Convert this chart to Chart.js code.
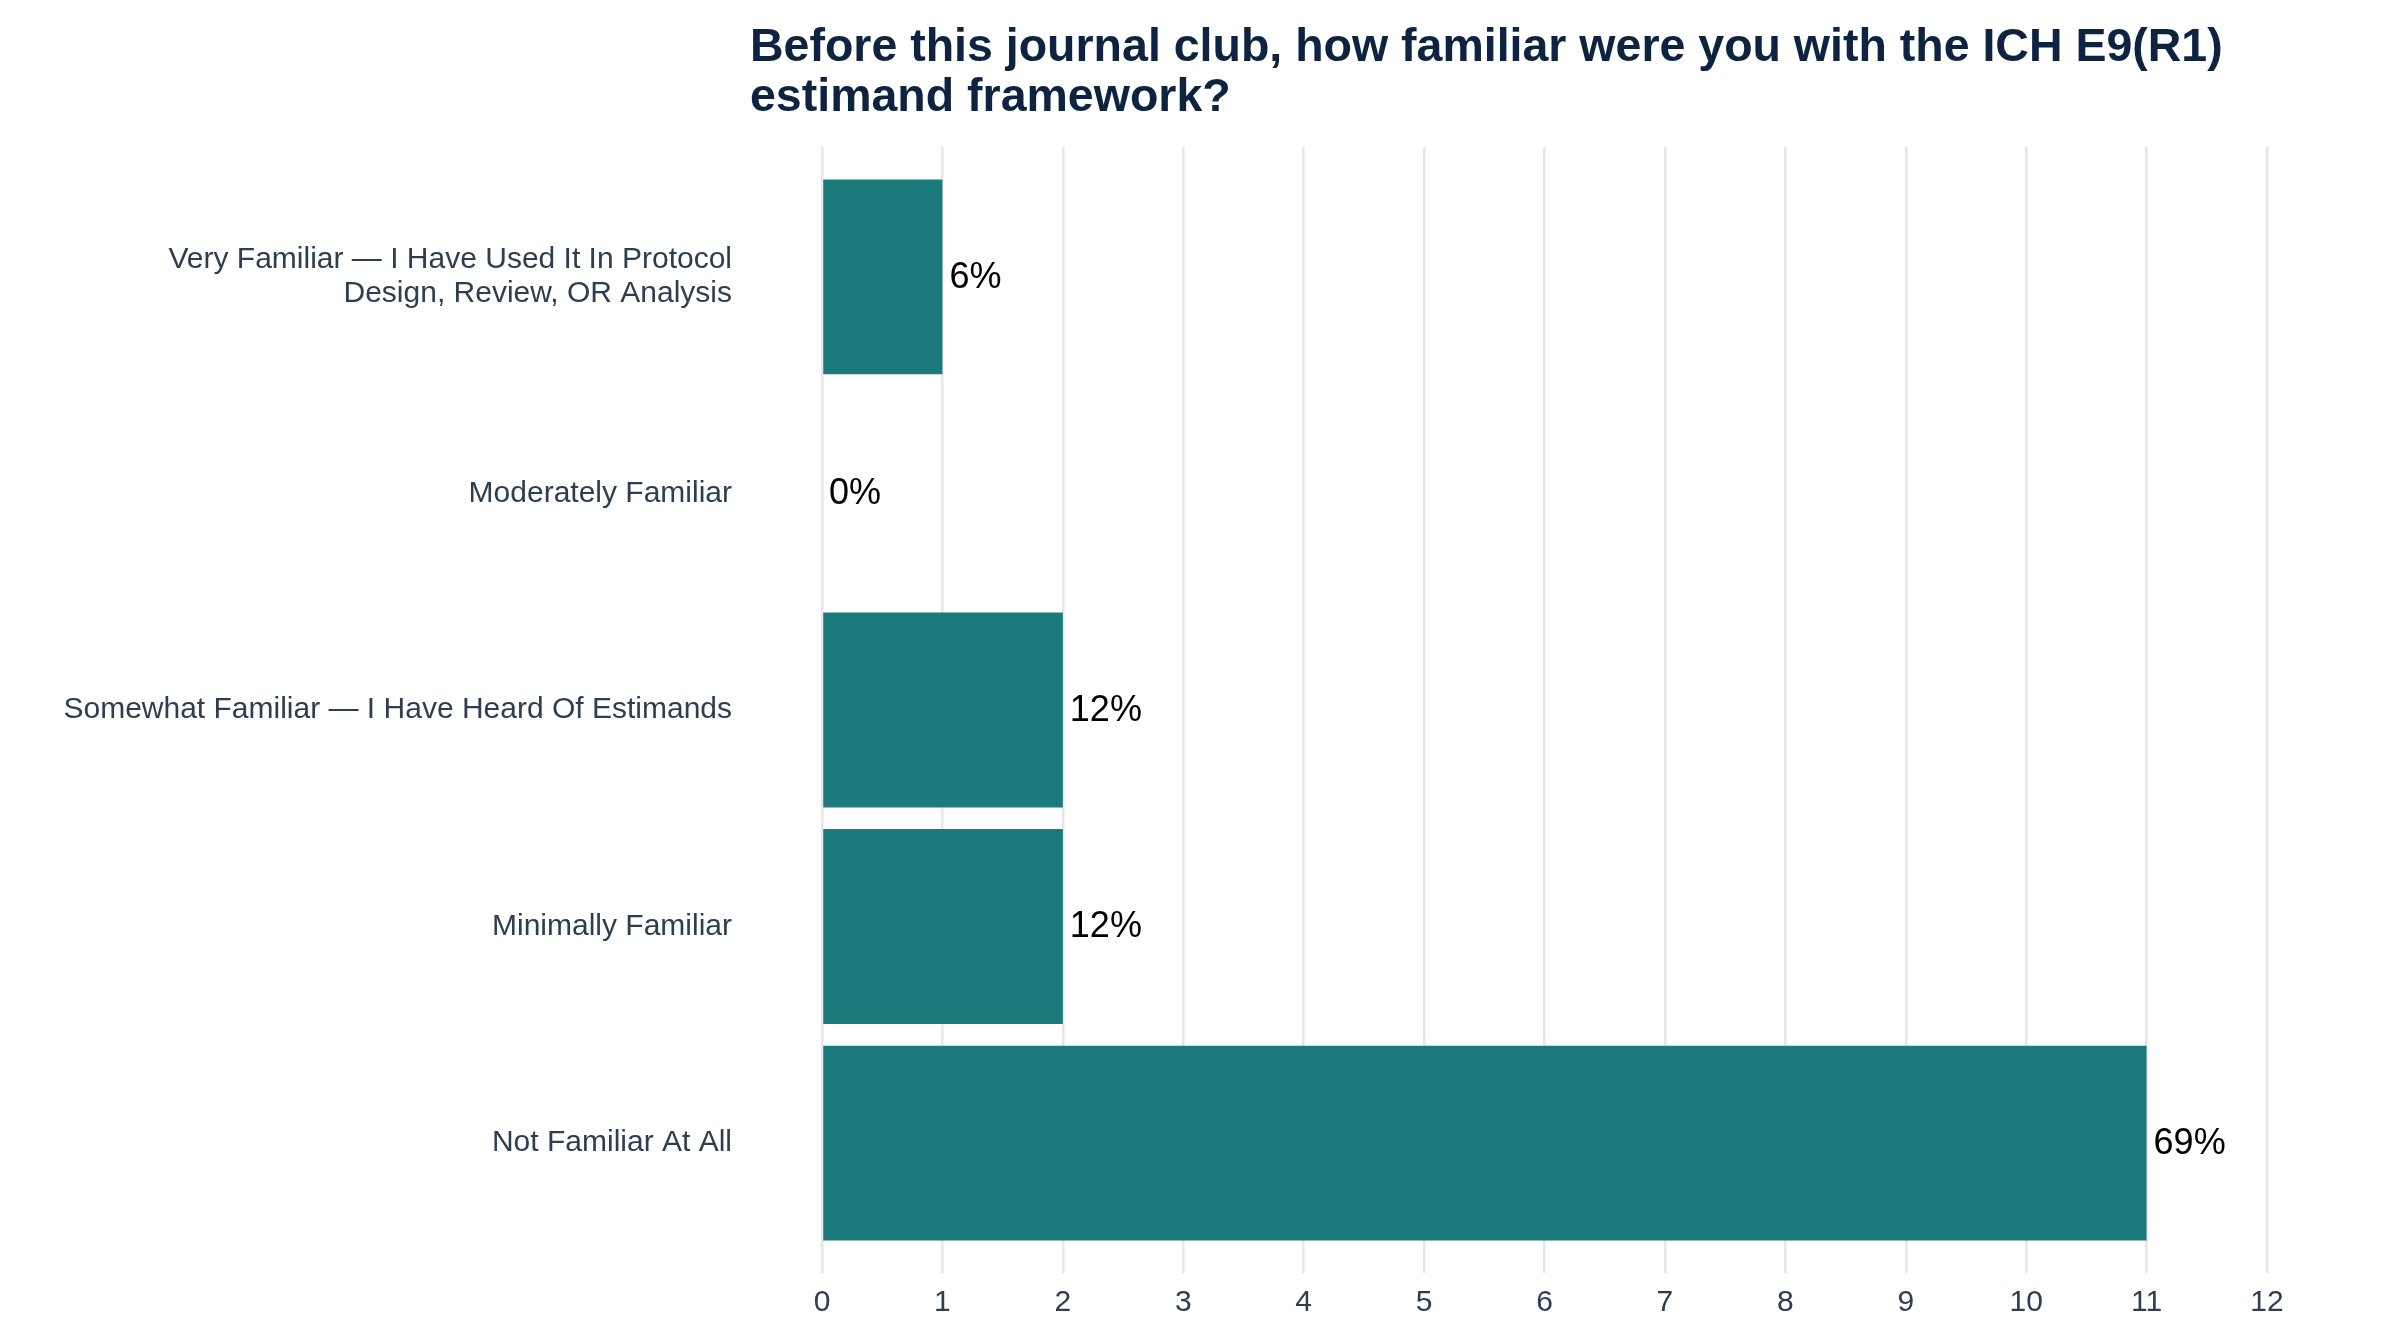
<!DOCTYPE html>
<html>
<head>
<meta charset="utf-8">
<script src="https://cdn.jsdelivr.net/npm/chart.js@4.4.1/dist/chart.umd.min.js"></script>
<style>
  html, body { margin: 0; padding: 0; background: #ffffff; }
  #wrap { width: 2400px; height: 1344px; }
</style>
</head>
<body>
<div id="wrap"><canvas id="chart" width="2400" height="1344"></canvas></div>
<script>
const titleLines = [
  'Before this journal club, how familiar were you with the ICH E9(R1)',
  'estimand framework?'
];

const categories = [
  ['Very Familiar \u2014 I Have Used It In Protocol', 'Design, Review, OR Analysis'],
  'Moderately Familiar',
  'Somewhat Familiar \u2014 I Have Heard Of Estimands',
  'Minimally Familiar',
  'Not Familiar At All'
];

const counts = [1, 0, 2, 2, 11];
const pctLabels = ['6%', '0%', '12%', '12%', '69%'];

const xTicks = [0, 1, 2, 3, 4, 5, 6, 7, 8, 9, 10, 11, 12];

const FONT = '"Liberation Sans", Arial, Helvetica, sans-serif';
const barColor = '#1b7a7c';
const labelColor = '#2c3e50';
const titleColor = '#0d2340';

// title drawn by hand so it can sit left of the plot panel
const titlePlugin = {
  id: 'leftTitle',
  afterDraw(chart) {
    const ctx = chart.ctx;
    ctx.save();
    ctx.font = 'bold 46.5px ' + FONT;
    ctx.fillStyle = titleColor;
    ctx.textAlign = 'left';
    ctx.textBaseline = 'alphabetic';
    titleLines.forEach((t, i) => ctx.fillText(t, 750, 61 + i * 50));
    ctx.restore();
  }
};

// percentage text at the end of every bar
const valueLabels = {
  id: 'valueLabels',
  afterDatasetsDraw(chart) {
    const ctx = chart.ctx;
    const meta = chart.getDatasetMeta(0);
    ctx.save();
    ctx.font = '36px ' + FONT;
    ctx.fillStyle = '#000000';
    ctx.textAlign = 'left';
    ctx.textBaseline = 'middle';
    meta.data.forEach((bar, i) => {
      ctx.fillText(pctLabels[i], bar.x + 7, bar.y + 1);
    });
    ctx.restore();
  }
};

new Chart(document.getElementById('chart'), {
  type: 'bar',
  data: {
    datasets: [{
      data: counts.map((v, i) => ({ x: v, y: i })),
      backgroundColor: barColor,
      borderWidth: 0,
      categoryPercentage: 0.9,
      barPercentage: 1.0
    }]
  },
  options: {
    indexAxis: 'y',
    responsive: false,
    devicePixelRatio: 1,
    animation: false,
    layout: { padding: { top: 147, right: 133, left: 0, bottom: 0 } },
    plugins: {
      legend: { display: false },
      title: { display: false },
      tooltip: { enabled: false }
    },
    scales: {
      x: {
        type: 'linear',
        min: 0,
        max: 12,
        afterBuildTicks: axis => { axis.ticks = xTicks.map(v => ({ value: v })); },
        afterFit: axis => { axis.height = 71; },
        grid: { color: '#e6e6e6', lineWidth: 2.5, drawTicks: false },
        border: { display: false },
        ticks: {
          color: labelColor,
          font: { family: FONT, size: 30 },
          padding: 12
        }
      },
      y: {
        type: 'linear',
        offset: false,
        min: -0.6,
        max: 4.6,
        reverse: true,
        afterBuildTicks: axis => { axis.ticks = categories.map((_, i) => ({ value: i })); },
        afterFit: axis => {
          axis.width = 822;
          // the big label gap should not eat into the plot height
          axis.paddingTop = 0;
          axis.paddingBottom = 0;
        },
        grid: { display: false, drawTicks: false },
        border: { display: false },
        ticks: {
          color: labelColor,
          font: { family: FONT, size: 30, lineHeight: 1.15 },
          padding: 90,
          callback: v => categories[v]
        }
      }
    }
  },
  plugins: [titlePlugin, valueLabels]
});
</script>
</body>
</html>
